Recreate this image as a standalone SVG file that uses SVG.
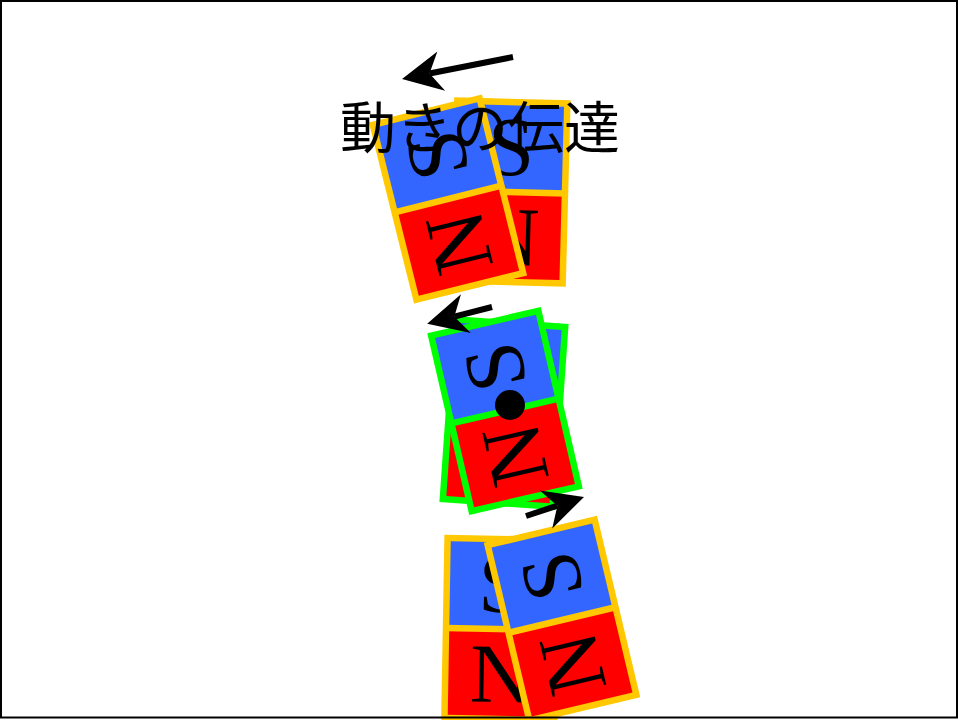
<svg xmlns="http://www.w3.org/2000/svg" width="958" height="720" viewBox="0 0 958 720">
  <style>
    .pole-s { fill: #3366ff; }
    .pole-n { fill: #ff0000; }
    .rim { fill: none; stroke-width: 6.5; }
    .gold { stroke: #ffc800; }
    .lime { stroke: #00ff00; }
    .letter { font-family: "Liberation Serif", "Times New Roman", serif; font-size: 84px; fill: #000; text-anchor: middle; }
    .title { font-family: "Noto Sans CJK JP", "Noto Sans", sans-serif; font-size: 56px; fill: #000; text-anchor: middle; }
    .shaft { stroke: #000; stroke-width: 6; fill: none; }
  </style>
  <defs>
    <marker id="head" markerUnits="userSpaceOnUse" orient="auto" refX="0" refY="0" markerWidth="60" markerHeight="60" overflow="visible">
      <path d="M28,0 L-12,-20 L0,0 L-12,20 Z" fill="#000"/>
    </marker>
    <!-- bar magnet bodies centred on the origin; S half on top, N half below -->
    <g id="body-upright">
      <rect class="pole-s" x="-55" y="-90" width="110" height="90"/>
      <rect class="pole-n" x="-55" y="0" width="110" height="90"/>
      <text class="letter" x="0" y="-17">S</text>
      <text class="letter" x="0" y="73">N</text>
    </g>
    <g id="body-turned">
      <rect class="pole-s" x="-55" y="-90" width="110" height="90"/>
      <rect class="pole-n" x="-55" y="0" width="110" height="90"/>
      <text class="letter" transform="translate(0,-45) rotate(-90)" y="28">S</text>
      <text class="letter" transform="translate(0,45) rotate(-90)" y="28">N</text>
    </g>
  </defs>

  <rect x="0" y="0" width="958" height="720" fill="#fff"/>

  <!-- upper pair -->
  <g id="magnet-top-back" transform="translate(510,192) rotate(1.5)">
    <use href="#body-upright"/>
    <rect class="rim gold" x="-55" y="-90" width="110" height="180"/>
    <line class="rim gold" x1="-55" y1="0" x2="55" y2="0"/>
  </g>
  <g id="magnet-top-front" transform="translate(448,199) rotate(-14)">
    <use href="#body-turned"/>
    <rect class="rim gold" x="-55" y="-90" width="110" height="180"/>
    <line class="rim gold" x1="-55" y1="0" x2="55" y2="0"/>
  </g>

  <g id="label">
    <text class="title" x="480" y="148">動きの伝達</text>
  </g>

  <!-- middle pair on its pivot -->
  <g id="magnet-mid-back" transform="translate(504,413) rotate(4)">
    <use href="#body-upright"/>
    <rect class="rim lime" x="-55" y="-90" width="110" height="180"/>
    <line class="rim lime" x1="-55" y1="0" x2="55" y2="0"/>
  </g>
  <g id="magnet-mid-front" transform="translate(505,411) rotate(-13)">
    <use href="#body-turned"/>
    <rect class="rim lime" x="-55" y="-90" width="110" height="180"/>
    <line class="rim lime" x1="-55" y1="0" x2="55" y2="0"/>
  </g>
  <g id="pivot">
    <circle cx="510" cy="405" r="15" fill="#000"/>
  </g>

  <!-- lower pair -->
  <g id="magnet-bottom-back" transform="translate(501,629) rotate(1)">
    <use href="#body-upright"/>
    <rect class="rim gold" x="-55" y="-90" width="110" height="180"/>
    <line class="rim gold" x1="-55" y1="0" x2="55" y2="0"/>
  </g>
  <g id="magnet-bottom-front" transform="translate(562,620) rotate(-13.4)">
    <use href="#body-turned"/>
    <rect class="rim gold" x="-55" y="-90" width="110" height="180"/>
    <line class="rim gold" x1="-55" y1="0" x2="55" y2="0"/>
  </g>

  <!-- motion arrows -->
  <g id="connectors">
    <line class="shaft" x1="513" y1="57" x2="429.5" y2="73.5" marker-end="url(#head)"/>
    <line class="shaft" x1="492" y1="307" x2="454.3" y2="316.7" marker-end="url(#head)"/>
    <line class="shaft" x1="526" y1="516" x2="557.4" y2="505.7" marker-end="url(#head)"/>
  </g>

  <rect x="1" y="1" width="956" height="716.5" fill="none" stroke="#000" stroke-width="2"/>
</svg>
